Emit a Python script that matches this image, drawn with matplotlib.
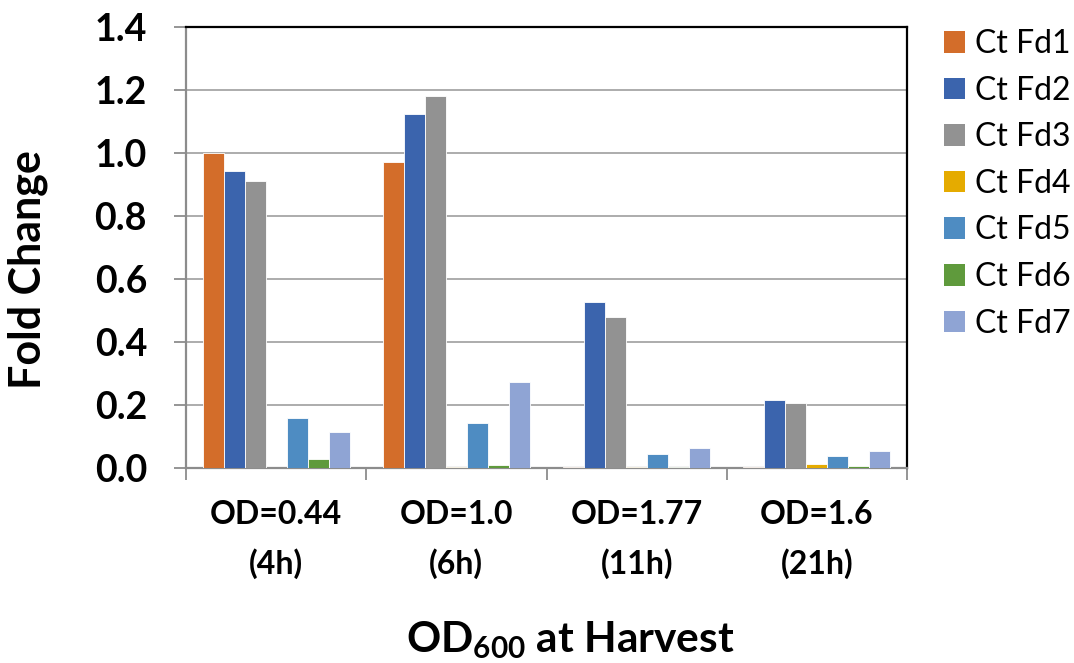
import numpy as np
import matplotlib.pyplot as plt
from matplotlib.patches import Patch

plt.rcParams["font.family"] = ["Lato", "DejaVu Sans"]
plt.rcParams["mathtext.fontset"] = "custom"
plt.rcParams["mathtext.rm"] = "Lato:bold"
plt.rcParams["mathtext.bf"] = "Lato:bold"

grupos = ["OD=0.44\n(4h)", "OD=1.0\n(6h)", "OD=1.77\n(11h)", "OD=1.6\n(21h)"]
series = ["Ct Fd1", "Ct Fd2", "Ct Fd3", "Ct Fd4", "Ct Fd5", "Ct Fd6", "Ct Fd7"]

fd1 = [1.000, 0.971, 0.002, 0.003]
fd2 = [0.943, 1.124, 0.527, 0.215]
fd3 = [0.911, 1.181, 0.479, 0.205]
fd4 = [0.000, 0.003, 0.003, 0.014]
fd5 = [0.159, 0.143, 0.045, 0.038]
fd6 = [0.029, 0.010, 0.004, 0.005]
fd7 = [0.114, 0.273, 0.063, 0.055]
valores = [fd1, fd2, fd3, fd4, fd5, fd6, fd7]

CORES = ["#D36D2A", "#3B64AD", "#929292", "#E5AB00", "#4E8CC2", "#5F9A3C", "#8FA4D4"]

fig = plt.figure(figsize=(10.74, 6.63), dpi=100)
ax = fig.add_axes([186 / 1074, 1 - 468 / 663, (907 - 186) / 1074, (468 - 27) / 663])

x = np.arange(len(grupos))
largura = 1 / 8.57
for i, (nome, vals) in enumerate(zip(series, valores)):
    ax.bar(x + (i - 3) * largura, vals, largura, color=CORES[i],
           edgecolor="white", linewidth=0.6, label=nome, zorder=3)

ax.set_xlim(-0.5, len(grupos) - 0.5)
ax.set_ylim(0, 1.4)
ax.set_yticks(np.arange(0, 1.41, 0.2))
ax.set_yticklabels([f"{v:.1f}" for v in np.arange(0, 1.41, 0.2)],
                   fontsize=27, fontweight="bold")
ax.yaxis.grid(True, color="#A6A6A6", linewidth=1.3, zorder=0)

ax.set_xticks(x)
ax.set_xticklabels(grupos, fontsize=23, fontweight="bold", linespacing=1.75)
ax.set_xticks(np.arange(-0.5, len(grupos), 1), minor=True)
ax.tick_params(axis="x", which="major", length=0, pad=23)
ax.tick_params(axis="x", which="minor", length=8.6, color="#8C8C8C", width=1.3)
ax.tick_params(axis="y", length=9, color="#8C8C8C", width=1.3, pad=19)

for lado in ["left", "bottom"]:
    ax.spines[lado].set_color("#8C8C8C")
    ax.spines[lado].set_linewidth(1.6)
for lado in ["top", "right"]:
    ax.spines[lado].set_color("black")
    ax.spines[lado].set_linewidth(1.6)

fig.text(28 / 1074, 1 - 270 / 663, "Fold Change", rotation=90, fontsize=31,
         fontweight="bold", ha="center", va="center")
fig.text(570 / 1074, 1 - 640 / 663, r"OD$_{600}$ at Harvest", fontsize=30.5,
         fontweight="bold", ha="center", va="center")

alcas = [Patch(facecolor=c, edgecolor="none") for c in CORES]
fig.legend(alcas, series, loc="upper left", bbox_to_anchor=(944 / 1074, 1 - 29 / 663),
           frameon=False, fontsize=23, handlelength=0.66, handleheight=0.66,
           handletextpad=0.3, labelspacing=0.52, borderpad=0, borderaxespad=0)

plt.savefig("out.png", dpi=100)
